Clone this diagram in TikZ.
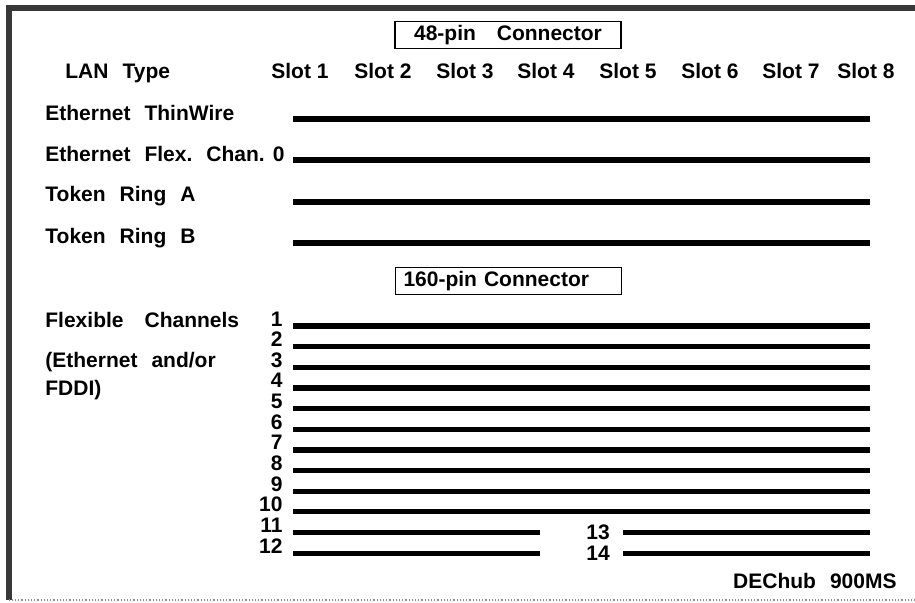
\documentclass[tikz,border=0pt]{standalone}
\usepackage{fontspec}
\setmainfont[WordSpace=2.4]{Liberation Sans}
\frenchspacing

\begin{document}
\begin{tikzpicture}[x=0.5pt, y=-0.5pt, font=\fontsize{10.5}{12}\selectfont\bfseries,
        every node/.style={inner sep=0pt},
        lbl/.style={anchor=base west},
        num/.style={anchor=base east},
        bus/.style={line width=2.6pt},
        conn/.style={draw, line width=0.8pt, text width=105pt, inner xsep=4pt, minimum height=13.5pt}]
        \useasboundingbox (0,0) rectangle (915,602);

        % outer frame
        \draw[line width=3pt, black!78] (915,8) -- (8.5,8) -- (8.5,600);
        \draw[black!45, densely dotted, line width=0.6pt] (8.5,600) -- (915,600);

        % 48-pin part
        \node[conn, align=center] (con48) at (508,35) {48-pin\quad Connector};
        \node[lbl] (lan) at (65,78) {LAN Type};
        \foreach \x [count=\i] in {300,383,465,546,628,710,791,866}
            \node[anchor=base] (slot\i) at (\x,78) {Slot\hspace{0.28em}\i};

        \node[lbl] (thin) at (45,120) {Ethernet ThinWire};
        \node[lbl] (flex) at (45,161) {Ethernet Flex. Chan.};
        \node[num] (ch0) at (285,161) {0};
        \node[lbl] (tra) at (45,201) {Token Ring A};
        \node[lbl] (trb) at (45,243) {Token Ring B};

        \foreach \n/\y in {thin/119, flex/160, tra/202, trb/243} {
            \coordinate (\n b) at (293,\y);
            \coordinate (\n e) at (870,\y);
            \draw[bus] (\n b) -- (\n e);
        }

        % 160-pin part
        \node[conn, align=left] (con160) at (508.5,281) {160-pin Connector};
        \node[lbl] (fc) at (45,327) {Flexible\quad Channels};
        \node[lbl] (fca) at (45,367) {(Ethernet and/or};
        \node[lbl] (fcb) at (45,395) {FDDI)};

        \foreach \i in {1,...,12} {
            \pgfmathsetmacro{\y}{326+(\i-1)*20.65}
            \node[num] (ch\i) at (283,\y) {\i};
            \coordinate (b\i) at (293,\y);
            \ifnum\i<11
                \coordinate (e\i) at (870,\y);
            \else
                \coordinate (e\i) at (540,\y);
            \fi
            \draw[bus] (b\i) -- (e\i);
        }
        \foreach \i/\j in {13/11, 14/12} {
            \node[anchor=base] (ch\i) at ([yshift=-3.5pt]b\j -| 598,0) {\i};
            \coordinate (b\i) at (b\j -| 623,0);
            \coordinate (e\i) at (b\j -| 870,0);
            \draw[bus] (b\i) -- (e\i);
        }

        \node[anchor=base east] (hub) at (897,588) {DEChub 900MS};
    \end{tikzpicture}
\end{document}
